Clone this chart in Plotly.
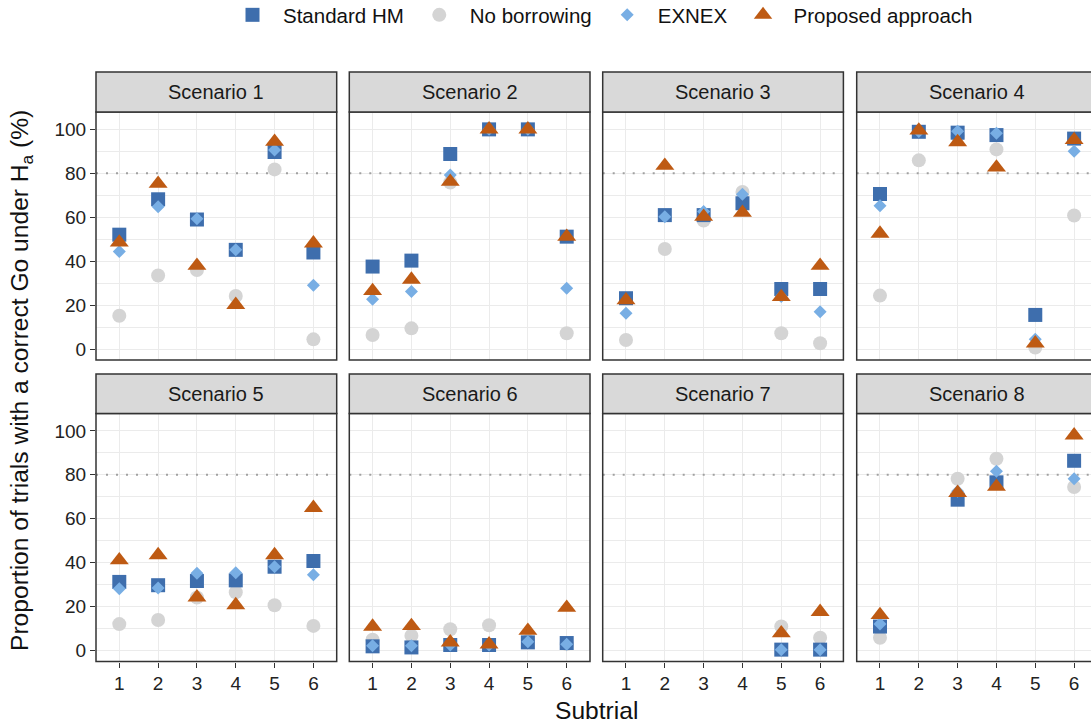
import plotly.graph_objects as go

subtrials = [1, 2, 3, 4, 5, 6]
scenarios = ["Scenario 1", "Scenario 2", "Scenario 3", "Scenario 4",
             "Scenario 5", "Scenario 6", "Scenario 7", "Scenario 8"]
methods = ["Standard HM", "No borrowing", "EXNEX", "Proposed approach"]
N = None

standard_hm = [
    [52.1, 68.2, 59.0, 45.2, 89.7, 44.0],
    [37.6, 40.3, 88.8, 100, 100, 51.2],
    [23.2, 61.0, 61.0, 66.4, 27.4, 27.4],
    [70.6, 98.9, 98.5, 97.4, 15.6, 95.8],
    [31.3, 29.8, 31.7, 32.0, 38.2, 40.8],
    [2.0, 1.5, 2.6, 2.6, 3.8, 3.5],
    [N, N, N, N, 0.5, 0.5],
    [11.0, N, 68.7, 76.6, N, 86.4],
]
no_borrowing = [
    [15.2, 33.5, 36.0, 24.2, 81.8, 4.5],
    [6.5, 9.5, 75.8, 100, 100, 7.3],
    [4.2, 45.6, 58.5, 71.5, 7.3, 2.7],
    [24.4, 85.9, 97.0, 90.9, 0.8, 60.8],
    [12.1, 14.0, 24.2, 26.6, 20.7, 11.3],
    [5.0, 6.8, 9.8, 11.6, 4.5, 3.0],
    [N, N, N, N, 11.0, 5.9],
    [5.9, N, 78.2, 87.3, N, 74.5],
]
exnex = [
    [44.4, 64.8, 59.4, 45.2, 90.6, 29.1],
    [22.7, 26.2, 79.2, 100, 100, 27.7],
    [16.4, 60.3, 62.6, 70.5, 24.0, 17.1],
    [65.3, 99.0, 99.2, 98.2, 4.5, 90.0],
    [28.2, 28.5, 35.2, 35.5, 38.2, 34.6],
    [2.3, 2.3, 2.6, 2.6, 4.1, 3.0],
    [N, N, N, N, 0.5, 0.5],
    [12.1, N, 72.5, 81.6, N, 78.2],
]
proposed = [
    [48.6, 75.3, 38.0, 20.2, 94.4, 48.2],
    [26.5, 31.7, 76.2, 100, 100, 51.2],
    [22.3, 83.5, 60.3, 62.1, 23.8, 38.0],
    [52.6, 99.5, 94.2, 82.7, 2.7, 95.2],
    [41.2, 43.5, 24.3, 20.8, 43.5, 65.0],
    [11.0, 11.3, 3.8, 2.9, 9.1, 19.6],
    [N, N, N, N, 8.0, 17.7],
    [16.3, N, 71.8, 74.6, N, 98.0],
]
y_ticks = [0, 20, 40, 60, 80, 100]
threshold = 80

W, H = 1091, 724
OFF = 0  # body margin removed via post_script
FONT = "Liberation Sans, Arial, Helvetica, sans-serif"


def fx(px):
    return (px - OFF) / W


def fy(py):
    return 1 - (py - OFF) / H


# panel geometry in page pixels
col_left = [96.0, 349.3, 602.7, 856.7]
panel_w = 240.7
row_plot = [(112.0, 360.0), (413.5, 661.5)]
row_strip = [(72.0, 112.0), (374.0, 413.5)]
unit = panel_w / 6.2
VIEW_R = W  # visible right edge in page px

styles = {
    "Standard HM": dict(symbol="square", size=14, color="#3E6EAD"),
    "No borrowing": dict(symbol="circle", size=14, color="#D4D4D4"),
    "EXNEX": dict(symbol="diamond", size=10, color="#78AEE4"),
    "Proposed approach": dict(symbol="triangle-up", size=16.5, color="#BE5A13"),
}
data = {"Standard HM": standard_hm, "No borrowing": no_borrowing,
        "EXNEX": exnex, "Proposed approach": proposed}
draw_order = ["No borrowing", "Standard HM", "EXNEX", "Proposed approach"]
rank = {m: i for i, m in enumerate(methods)}

fig = go.Figure()
layout = {}
shapes = []
annotations = []

for p in range(8):
    r, c = divmod(p, 4)
    idx = p + 1
    xs = "" if idx == 1 else str(idx)
    x0px = col_left[c]
    x1px = min(x0px + panel_w, VIEW_R)
    xmax = 0.4 + (x1px - x0px) / unit
    top, bot = row_plot[r]
    layout[f"xaxis{xs}"] = dict(
        domain=[fx(x0px), fx(x1px)], range=[0.4, xmax], anchor=f"y{xs}",
        tickvals=subtrials, ticktext=[str(s) for s in subtrials],
        showticklabels=(r == 1), ticks="outside" if r == 1 else "",
        ticklen=5, tickwidth=1.4, tickcolor="#333333",
        showgrid=True, gridcolor="#EBEBEB", gridwidth=1.4, zeroline=False,
        showline=False, tickfont=dict(family=FONT, size=19, color="#222222"),
    )
    layout[f"yaxis{xs}"] = dict(
        domain=[fy(bot), fy(top)], range=[-4.9, 107.9], anchor=f"x{xs}",
        tickvals=y_ticks, showticklabels=(c == 0), ticks="outside" if c == 0 else "",
        ticklen=5, tickwidth=1.4, tickcolor="#333333",
        showgrid=True, gridcolor="#EBEBEB", gridwidth=1.4, zeroline=False,
        minor=dict(dtick=10, tick0=0, showgrid=True, gridcolor="#EBEBEB", gridwidth=0.8),
        showline=False, tickfont=dict(family=FONT, size=19, color="#222222"),
    )
    # threshold reference line (drawn first, beneath markers)
    fig.add_trace(go.Scatter(
        x=[0.4, xmax], y=[threshold, threshold], mode="lines", showlegend=False,
        hoverinfo="skip", line=dict(color="#A0A0A0", width=2, dash="2px,8px"),
        xaxis=f"x{xs}", yaxis=f"y{xs}",
    ))
    for m in draw_order:
        st = styles[m]
        fig.add_trace(go.Scatter(
            x=subtrials, y=data[m][p], mode="markers", name=m,
            legendgroup=m, showlegend=(p == 0), legendrank=rank[m] + 1,
            marker=dict(symbol=st["symbol"], size=st["size"], color=st["color"],
                        line=dict(width=0)),
            xaxis=f"x{xs}", yaxis=f"y{xs}", cliponaxis=False,
        ))
    # panel border
    shapes.append(dict(type="rect", xref="paper", yref="paper",
                       x0=fx(x0px), x1=fx(x0px + panel_w),
                       y0=fy(bot), y1=fy(top), layer="above",
                       line=dict(color="#333333", width=1.5), fillcolor="rgba(0,0,0,0)"))
    # strip
    s0, s1 = row_strip[r]
    shapes.append(dict(type="rect", xref="paper", yref="paper",
                       x0=fx(x0px), x1=fx(x0px + panel_w),
                       y0=fy(s1), y1=fy(s0), layer="above",
                       line=dict(color="#333333", width=1.5), fillcolor="#D9D9D9"))
    annotations.append(dict(text=scenarios[p], xref="paper", yref="paper",
                            x=fx(x0px + panel_w / 2), y=fy((s0 + s1) / 2),
                            showarrow=False, xanchor="center", yanchor="middle",
                            font=dict(family=FONT, size=20, color="#1A1A1A")))

annotations.append(dict(text="Proportion of trials with a correct Go under H<sub>a</sub> (%)",
                        xref="paper", yref="paper", x=fx(21), y=fy(381),
                        textangle=-90, showarrow=False, xanchor="center", yanchor="middle",
                        font=dict(family=FONT, size=24.6, color="#111111")))
annotations.append(dict(text="Subtrial", xref="paper", yref="paper",
                        x=fx(596.5), y=fy(710), showarrow=False,
                        xanchor="center", yanchor="middle",
                        font=dict(family=FONT, size=24.6, color="#111111")))

fig.update_layout(
    width=W, height=H, margin=dict(l=0, r=0, t=0, b=0, autoexpand=False),
    paper_bgcolor="white", plot_bgcolor="white",
    shapes=shapes, annotations=annotations,
    legend=dict(orientation="h", x=fx(600), xanchor="center", y=fy(15),
                yanchor="middle", font=dict(family=FONT, size=20.5, color="#111111"),
                itemwidth=51, itemsizing="trace", bgcolor="rgba(0,0,0,0)",
                traceorder="normal"),
    **layout,
)
fig.write_html("out.html", config={"displayModeBar": False},
               post_script="document.body.style.margin='0';")
